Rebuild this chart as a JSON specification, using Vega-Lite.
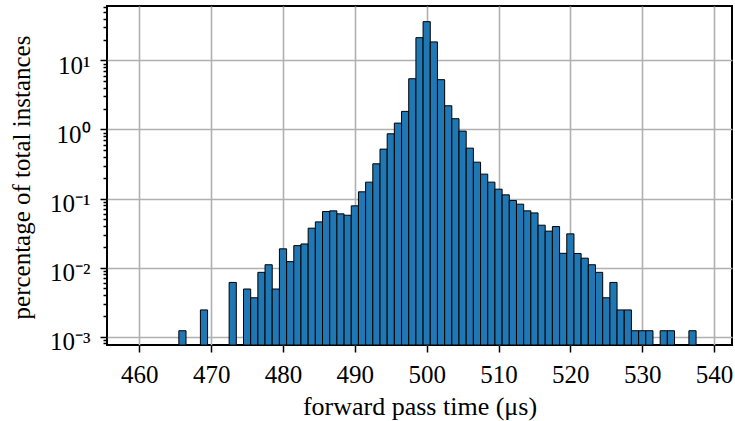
{
  "$schema": "https://vega.github.io/schema/vega-lite/v6.json",
  "width": 625,
  "height": 339,
  "autosize": "none",
  "padding": {"left": 107, "top": 6, "right": 3, "bottom": 76},
  "config": {
    "font": "Liberation Serif, Times New Roman, Times, serif",
    "view": {"stroke": "black", "strokeWidth": 2},
    "axis": {
      "grid": true, "gridColor": "#b0b0b0", "gridWidth": 1.6,
      "domain": false, "tickColor": "black", "tickWidth": 1.5,
      "labelFont": "Liberation Serif, Times New Roman, Times, serif", "labelFontSize": 25, "labelColor": "black",
      "titleFont": "Liberation Serif, Times New Roman, Times, serif", "titleFontSize": 26, "titleFontWeight": "normal", "titleColor": "black"
    }
  },
  "data": {"values": [
    {"start": 465.5, "end": 466.5, "pct": 0.00122},
    {"start": 468.5, "end": 469.5, "pct": 0.00244},
    {"start": 472.5, "end": 473.5, "pct": 0.0061},
    {"start": 474.5, "end": 475.5, "pct": 0.0049},
    {"start": 475.5, "end": 476.5, "pct": 0.00366},
    {"start": 476.5, "end": 477.5, "pct": 0.00854},
    {"start": 477.5, "end": 478.5, "pct": 0.011},
    {"start": 478.5, "end": 479.5, "pct": 0.0049},
    {"start": 479.5, "end": 480.5, "pct": 0.0187},
    {"start": 480.5, "end": 481.5, "pct": 0.0122},
    {"start": 481.5, "end": 482.5, "pct": 0.0208},
    {"start": 482.5, "end": 483.5, "pct": 0.022},
    {"start": 483.5, "end": 484.5, "pct": 0.0372},
    {"start": 484.5, "end": 485.5, "pct": 0.0459},
    {"start": 485.5, "end": 486.5, "pct": 0.0648},
    {"start": 486.5, "end": 487.5, "pct": 0.0663},
    {"start": 487.5, "end": 488.5, "pct": 0.060},
    {"start": 488.5, "end": 489.5, "pct": 0.0573},
    {"start": 489.5, "end": 490.5, "pct": 0.0783},
    {"start": 490.5, "end": 491.5, "pct": 0.125},
    {"start": 491.5, "end": 492.5, "pct": 0.1726},
    {"start": 492.5, "end": 493.5, "pct": 0.318},
    {"start": 493.5, "end": 494.5, "pct": 0.519},
    {"start": 494.5, "end": 495.5, "pct": 0.865},
    {"start": 495.5, "end": 496.5, "pct": 1.235},
    {"start": 496.5, "end": 497.5, "pct": 1.824},
    {"start": 497.5, "end": 498.5, "pct": 5.42},
    {"start": 498.5, "end": 499.5, "pct": 21.3},
    {"start": 499.5, "end": 500.5, "pct": 36.3},
    {"start": 500.5, "end": 501.5, "pct": 18.5},
    {"start": 501.5, "end": 502.5, "pct": 5.25},
    {"start": 502.5, "end": 503.5, "pct": 2.2},
    {"start": 503.5, "end": 504.5, "pct": 1.43},
    {"start": 504.5, "end": 505.5, "pct": 0.946},
    {"start": 505.5, "end": 506.5, "pct": 0.536},
    {"start": 506.5, "end": 507.5, "pct": 0.336},
    {"start": 507.5, "end": 508.5, "pct": 0.2254},
    {"start": 508.5, "end": 509.5, "pct": 0.1726},
    {"start": 509.5, "end": 510.5, "pct": 0.1365},
    {"start": 510.5, "end": 511.5, "pct": 0.113},
    {"start": 511.5, "end": 512.5, "pct": 0.0935},
    {"start": 512.5, "end": 513.5, "pct": 0.0828},
    {"start": 513.5, "end": 514.5, "pct": 0.0663},
    {"start": 514.5, "end": 515.5, "pct": 0.0619},
    {"start": 515.5, "end": 516.5, "pct": 0.0411},
    {"start": 516.5, "end": 517.5, "pct": 0.0337},
    {"start": 517.5, "end": 518.5, "pct": 0.0393},
    {"start": 518.5, "end": 519.5, "pct": 0.0161},
    {"start": 519.5, "end": 520.5, "pct": 0.0308},
    {"start": 520.5, "end": 521.5, "pct": 0.016},
    {"start": 521.5, "end": 522.5, "pct": 0.0137},
    {"start": 522.5, "end": 523.5, "pct": 0.011},
    {"start": 523.5, "end": 524.5, "pct": 0.00854},
    {"start": 524.5, "end": 525.5, "pct": 0.00366},
    {"start": 525.5, "end": 526.5, "pct": 0.0061},
    {"start": 526.5, "end": 527.5, "pct": 0.00244},
    {"start": 527.5, "end": 528.5, "pct": 0.00244},
    {"start": 528.5, "end": 529.5, "pct": 0.00122},
    {"start": 529.5, "end": 530.5, "pct": 0.00122},
    {"start": 530.5, "end": 531.5, "pct": 0.00122},
    {"start": 532.5, "end": 533.5, "pct": 0.00122},
    {"start": 533.5, "end": 534.5, "pct": 0.00122},
    {"start": 536.5, "end": 537.5, "pct": 0.00122}
  ]},
  "mark": {"type": "bar", "fill": "#1f77b4", "stroke": "black", "strokeWidth": 1, "clip": true},
  "encoding": {
    "x": {
      "field": "start", "type": "quantitative",
      "scale": {"domain": [455.5, 542.5], "nice": false, "zero": false},
      "axis": {
        "values": [460, 470, 480, 490, 500, 510, 520, 530, 540],
        "tickSize": 7, "labelPadding": 10, "labelFlush": false,
        "title": "forward pass time (μs)", "titlePadding": 6
      }
    },
    "x2": {"field": "end"},
    "y": {
      "field": "pct", "type": "quantitative",
      "scale": {"type": "log", "domain": [0.000758, 61.2], "nice": false},
      "axis": {
        "values": [0.0008, 0.0009, 0.001, 0.002, 0.003, 0.004, 0.005, 0.006, 0.007, 0.008, 0.009,
                   0.01, 0.02, 0.03, 0.04, 0.05, 0.06, 0.07, 0.08, 0.09,
                   0.1, 0.2, 0.3, 0.4, 0.5, 0.6, 0.7, 0.8, 0.9,
                   1, 2, 3, 4, 5, 6, 7, 8, 9,
                   10, 20, 30, 40, 50, 60],
        "labelExpr": "abs(datum.value - 10) < 1e-9 ? '10¹' : abs(datum.value - 1) < 1e-9 ? '10⁰' : abs(datum.value - 0.1) < 1e-9 ? '10⁻¹' : abs(datum.value - 0.01) < 1e-10 ? '10⁻²' : abs(datum.value - 0.001) < 1e-11 ? '10⁻³' : ''",
        "tickSize": {"condition": {"test": "abs(log(datum.value)/LN10 - round(log(datum.value)/LN10)) < 1e-6", "value": 7}, "value": 4},
        "gridOpacity": {"condition": {"test": "abs(log(datum.value)/LN10 - round(log(datum.value)/LN10)) < 1e-6", "value": 1}, "value": 0},
        "labelPadding": 10, "labelOffset": 5,
        "title": "percentage of total instances", "titleFontSize": 25,
        "titleX": -73, "titleY": 171, "titleAngle": -90, "titleBaseline": "bottom", "titleAlign": "center"
      }
    },
    "y2": {"datum": 0.000758}
  }
}
